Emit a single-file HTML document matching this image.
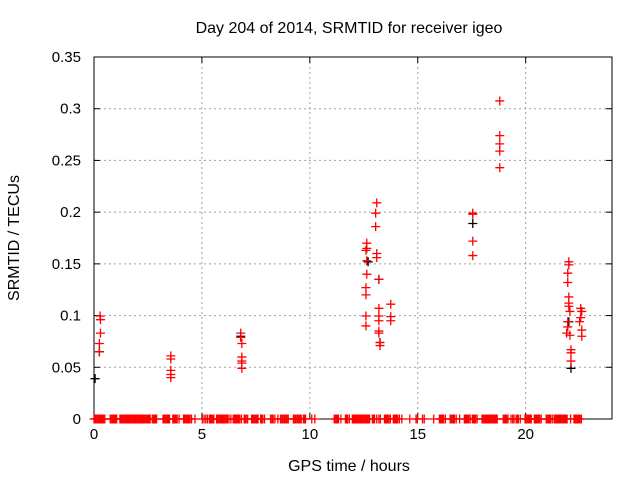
<!DOCTYPE html>
<html><head><meta charset="utf-8"><style>
body{margin:0;background:#fff}
svg text{font-family:"Liberation Sans",sans-serif;font-size:15px;fill:#000}
svg text.big{font-size:16px}
</style></head><body>
<svg width="640" height="480">
<rect width="640" height="480" fill="#fff"/>
<g id="grid"></g>
<g id="axes"></g>
<g id="marks"></g>
<text class="big" x="349" y="33" text-anchor="middle">Day 204 of 2014, SRMTID for receiver igeo</text>
<text class="big" x="349" y="471" text-anchor="middle">GPS time / hours</text>
<text class="big" transform="translate(19,238) rotate(-90)" text-anchor="middle">SRMTID / TECUs</text>
</svg>
<script>
const xTicks=[0,5,10,15,20];
const yTicks=[0,0.05,0.1,0.15,0.2,0.25,0.3,0.35];
const yTickLabels=["0","0.05","0.1","0.15","0.2","0.25","0.3","0.35"];
const redT=[0.28,0.3,0.3,0.25,0.25,3.56,3.56,3.56,3.56,3.56,6.8,6.8,6.85,6.85,6.85,6.85,6.85,
13.1,13.05,13.05,12.64,12.64,12.6,13.1,13.1,12.64,12.64,13.2,12.6,12.6,13.75,13.2,12.6,13.2,13.75,13.75,13.2,12.6,13.2,13.2,13.25,13.25,
18.8,18.8,18.8,18.8,18.8,17.55,17.55,17.55,17.55,
22.0,22.0,21.95,21.95,22.0,22.0,22.0,22.05,22.55,22.6,22.55,22.5,21.95,21.95,21.9,22.05,22.6,22.6,22.1,22.1,22.1];
const redV=[0.0996,0.096,0.083,0.073,0.065,0.061,0.058,0.047,0.043,0.040,0.083,0.079,0.073,0.060,0.056,0.054,0.049,
0.209,0.199,0.186,0.170,0.165,0.163,0.160,0.156,0.153,0.140,0.135,0.127,0.120,0.111,0.107,0.0996,0.0996,0.099,0.095,0.095,0.090,0.085,0.083,0.074,0.071,
0.3075,0.274,0.266,0.259,0.243,0.199,0.198,0.172,0.158,
0.152,0.149,0.141,0.132,0.118,0.112,0.109,0.104,0.107,0.104,0.098,0.094,0.094,0.089,0.083,0.081,0.086,0.080,0.067,0.064,0.056];
const blackT=[0.05,0.25,6.8,12.7,13.2,13.25,17.55,22.1,22.0];
const blackV=[0.039,0.065,0.080,0.152,0.135,0.074,0.189,0.049,0.094];
const zeroT=[0.0,0.05,0.1,0.15,0.2,0.25,0.3,0.35,0.4,0.45,0.5,0.75,0.8,0.85,0.9,0.95,1.0,1.05,1.2,1.25,1.3,1.35,1.4,1.45,1.5,1.55,1.6,1.65,1.7,1.75,1.8,1.85,1.9,1.95,2.0,2.05,2.1,2.15,2.2,2.25,2.3,2.35,2.4,2.45,2.5,2.55,2.6,2.7,2.75,2.8,2.85,2.9,3.2,3.25,3.3,3.35,3.4,3.45,3.5,3.65,3.7,3.75,3.8,3.85,3.94,4.15,4.2,4.25,4.3,4.35,4.4,4.45,4.52,4.68,
5.02,5.1,5.18,5.26,5.35,5.4,5.45,5.5,5.55,5.68,5.73,5.78,5.83,5.88,5.93,5.98,6.03,6.08,6.13,6.18,6.25,6.34,6.45,6.5,6.55,6.6,6.65,6.7,6.75,6.83,6.96,7.0,7.05,7.12,7.3,7.35,7.4,7.45,7.5,7.55,7.6,7.72,7.77,7.82,7.9,8.18,8.24,8.3,8.38,8.52,8.64,8.7,8.74,8.8,8.84,8.9,8.94,9.0,9.24,9.3,9.34,9.4,9.44,9.5,9.54,9.6,9.7,9.75,9.8,10.09,10.23,
11.13,11.18,11.23,11.28,11.33,11.44,11.65,11.7,11.75,11.83,11.97,12.02,12.07,12.12,12.17,12.22,12.27,12.32,12.37,12.42,12.47,12.52,12.57,12.62,12.67,12.72,12.77,12.9,12.95,13.0,13.1,13.2,13.27,13.46,13.51,13.56,13.61,13.66,13.73,13.87,13.92,13.97,14.02,14.07,14.15,14.26,14.63,14.92,14.98,15.22,15.3,15.74,16.0,16.05,16.1,16.15,16.2,16.28,16.5,16.55,16.6,16.65,16.7,16.78,16.94,17.16,17.21,17.26,17.31,17.36,17.43,17.53,17.58,17.63,17.68,17.75,17.98,18.03,18.08,18.13,18.18,18.23,18.28,18.33,18.38,18.43,18.48,18.53,18.58,18.63,18.68,18.96,19.01,19.06,19.12,19.18,19.32,19.4,19.46,19.56,19.61,19.66,19.75,19.97,20.02,20.07,20.12,20.17,20.22,20.26,20.4,20.45,20.5,20.55,20.6,20.65,20.72,20.95,21.0,21.05,21.1,21.15,21.23,21.32,21.37,21.42,21.47,21.52,21.57,21.62,21.67,21.72,21.77,21.82,21.87,21.92,22.08,22.24,22.29,22.34,22.39,22.44,22.49,22.52,22.58];
const X0=94,X1=612,Y0=419,Y1=57,XMAX=24,YMAX=0.35;
const sx=h=>X0+h/XMAX*(X1-X0);
const sy=v=>Y0-v/YMAX*(Y0-Y1);
const NS="http://www.w3.org/2000/svg";
function mk(tag,attrs,parent){const e=document.createElementNS(NS,tag);for(const k in attrs)e.setAttribute(k,attrs[k]);parent.appendChild(e);return e;}
const grid=document.getElementById('grid'),axes=document.getElementById('axes'),marks=document.getElementById('marks');
xTicks.forEach(t=>{const x=sx(t);
 if(t>0){const g=mk('line',{x1:x,x2:x,y1:Y0,y2:Y1,stroke:'#a0a0a0','stroke-dasharray':'2,3'},grid);
 
 }
 mk('line',{x1:x,x2:x,y1:Y0,y2:Y0-6,stroke:'#000'},axes);mk('line',{x1:x,x2:x,y1:Y1,y2:Y1+6,stroke:'#000'},axes);
 const tx=mk('text',{x:x,y:Y0+20,'text-anchor':'middle'},axes);tx.textContent=t;
 
 });
yTicks.forEach((t,i)=>{const y=sy(t);
 if(t>0&&t<YMAX){const g=mk('line',{x1:X0,x2:X1,y1:y,y2:y,stroke:'#a0a0a0','stroke-dasharray':'2,3'},grid);
 
 }
 mk('line',{x1:X0,x2:X0+6,y1:y,y2:y,stroke:'#000'},axes);mk('line',{x1:X1,x2:X1-6,y1:y,y2:y,stroke:'#000'},axes);
 const tx=mk('text',{x:X0-13,y:y+5,'text-anchor':'end'},axes);tx.textContent=yTickLabels[i];
 
 });
const fr=mk('rect',{x:X0,y:Y1,width:X1-X0,height:Y0-Y1,fill:'none',stroke:'#000'},axes);


function plus(h,v,c,name){const x=sx(h),y=sy(v);
 const p=mk('path',{d:`M${x-4.5},${y}h9M${x},${y-4.5}v9`,stroke:c,'stroke-width':1.3},marks);
 
 }
blackT.forEach((t,i)=>plus(t,blackV[i],'#000','black-point'));
redT.forEach((t,i)=>plus(t,redV[i],'#f00','red-point'));
zeroT.forEach(t=>plus(t,0,'#f00','zero-point'));
</script>
</body></html>
